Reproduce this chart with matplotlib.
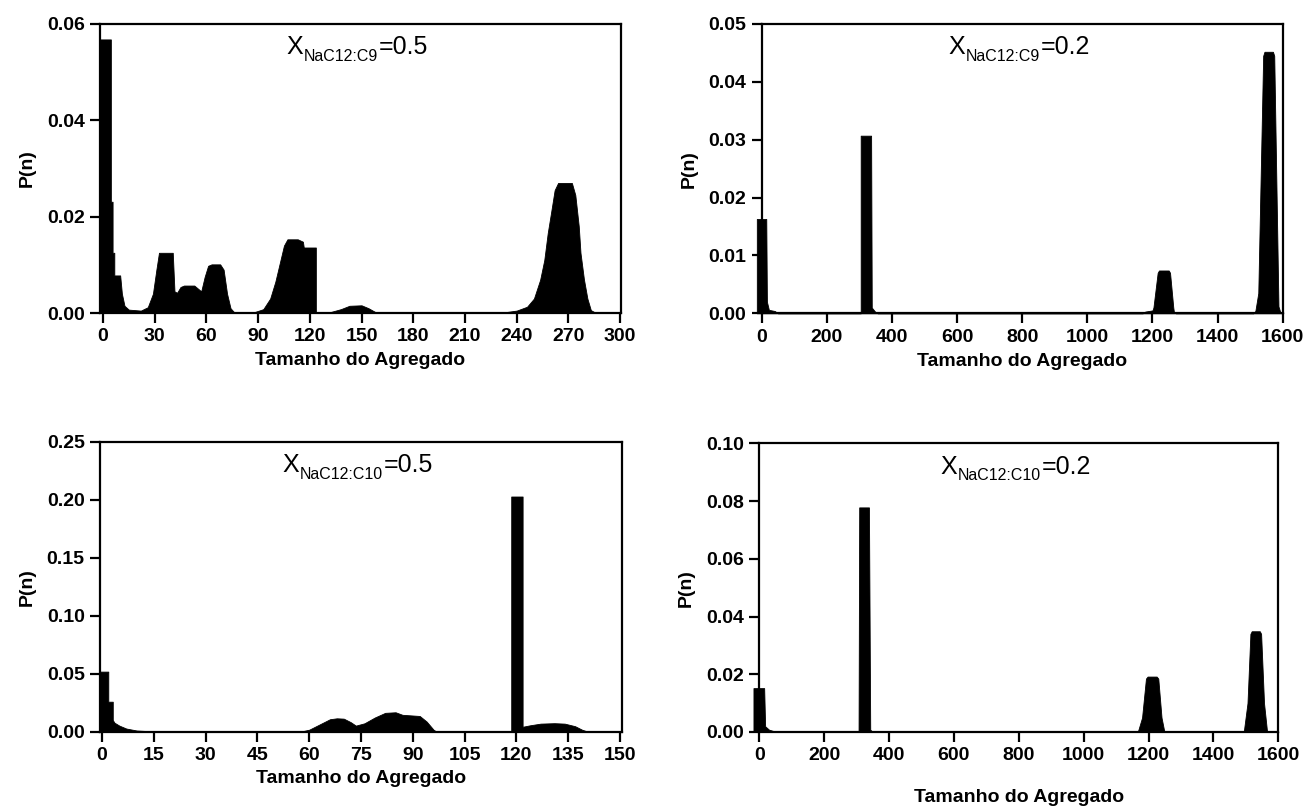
import matplotlib
matplotlib.use('Agg')
import matplotlib.pyplot as plt
from matplotlib.ticker import FormatStrFormatter

plt.rcParams['font.family'] = ['Liberation Sans', 'DejaVu Sans']

# Distribuição de tamanhos de agregado, C9 com X=0.5
n_c9_05 = [-1.7, -1.7, 4.6, 4.6, 5.6, 5.6, 6.6, 6.6, 10, 11, 12.5, 15, 22, 26, 29, 31, 32.5, 40.5,
           41.5, 43, 45, 47, 53, 56, 57, 59, 61, 63, 68, 70, 72, 74, 76, 88, 93, 97, 100, 103,
           105, 107, 113, 116, 116.5, 123.5, 123.5, 132, 138, 143, 150, 154, 158, 234, 240, 246,
           250, 253.6, 256, 258, 260, 262, 264, 272, 274, 276, 277, 279, 281, 283, 286]
p_c9_05 = [0, 0.0568, 0.0568, 0.0231, 0.0231, 0.0125, 0.0125, 0.0078, 0.0078, 0.004, 0.0015,
           0.0007, 0.0005, 0.0012, 0.004, 0.009, 0.0125, 0.0125, 0.0045, 0.0042, 0.0054, 0.0057,
           0.0057, 0.0048, 0.0045, 0.0075, 0.0098, 0.0101, 0.0101, 0.009, 0.004, 0.001, 0.0002,
           0.0002, 0.0008, 0.003, 0.0065, 0.011, 0.014, 0.0153, 0.0153, 0.0148, 0.0136, 0.0136,
           0.0001, 0.0002, 0.0008, 0.0015, 0.0016, 0.001, 0.0002, 0.0002, 0.0005, 0.0013, 0.003,
           0.0069, 0.011, 0.0166, 0.021, 0.0255, 0.027, 0.027, 0.0245, 0.018, 0.0125, 0.007,
           0.003, 0.0006, 0]

# C9 com X=0.2
n_c9_02 = [-15, -15, 14, 16, 22, 40, 50, 304, 304, 336, 338, 348, 356, 1170, 1178, 1200, 1203,
           1216, 1220, 1250, 1254, 1264, 1266, 1272, 1510, 1516, 1525, 1540, 1544, 1570, 1574,
           1587, 1592, 1596]
p_c9_02 = [0, 0.0163, 0.0163, 0.002, 0.0006, 0.0004, 0, 0, 0.0307, 0.0307, 0.001, 0.0003, 0,
           0, 0.0003, 0.0005, 0.001, 0.007, 0.0074, 0.0074, 0.007, 0.001, 0.0002, 0, 0, 0.0004,
           0.0035, 0.0445, 0.0452, 0.0452, 0.0445, 0.0012, 0.0003, 0]

# C10 com X=0.5
n_c10_05 = [-0.6, -0.6, 1.8, 1.8, 3.1, 3.1, 3.6, 5, 7, 10, 15, 20, 25, 57, 60, 63, 66, 68, 70,
            72, 73.5, 76, 79, 82, 85, 87, 92, 94, 96, 97, 118.5, 118.5, 121.8, 121.8, 124, 127,
            131, 134, 137, 139, 141]
p_c10_05 = [0, 0.052, 0.052, 0.0261, 0.0261, 0.0103, 0.008, 0.0055, 0.003, 0.0013, 0.0005,
            0.0002, 0, 0, 0.002, 0.0065, 0.011, 0.0118, 0.0115, 0.0085, 0.0055, 0.0075, 0.0125,
            0.0165, 0.017, 0.0148, 0.0138, 0.009, 0.002, 0, 0, 0.2028, 0.2028, 0.0045, 0.0058,
            0.0072, 0.0076, 0.0072, 0.005, 0.002, 0]

# C10 com X=0.2
n_c10_02 = [-18, -18, 15, 18, 30, 45, 50, 306, 308, 338, 342, 350, 1160, 1168, 1180, 1192, 1197,
            1225, 1230, 1240, 1248, 1256, 1486, 1494, 1505, 1514, 1518, 1543, 1547, 1556, 1565,
            1572]
p_c10_02 = [0, 0.0152, 0.0152, 0.002, 0.0008, 0.0003, 0, 0, 0.0778, 0.0778, 0.0008, 0, 0, 0.0005,
            0.005, 0.0185, 0.0192, 0.0192, 0.0185, 0.005, 0.0005, 0, 0, 0.0005, 0.01, 0.034,
            0.0349, 0.0349, 0.034, 0.01, 0.0005, 0]

W, H = 1307, 810
fig = plt.figure(figsize=(W / 100, H / 100), dpi=100)

paineis = [
    # caixa em pixels (esq, base, larg, alt), dados, xlim, xticks, ylim, yticks, subscrito, valor, pad
    ((100, 313, 521, 289), n_c9_05, p_c9_05, (-1.7, 300.5), range(0, 301, 30),
     (0, 0.06), [0, 0.02, 0.04, 0.06], 'NaC12:C9', '=0.5', 5),
    ((761.7, 313.3, 521, 289.3), n_c9_02, p_c9_02, (0, 1600), range(0, 1601, 200),
     (0, 0.05), [0, 0.01, 0.02, 0.03, 0.04, 0.05], 'NaC12:C9', '=0.2', 5),
    ((100, 732, 521.7, 290.3), n_c10_05, p_c10_05, (-0.6, 150.5), range(0, 151, 15),
     (0, 0.25), [0, 0.05, 0.10, 0.15, 0.20, 0.25], 'NaC12:C10', '=0.5', 4),
    ((759.3, 732, 519, 288.7), n_c10_02, p_c10_02, (0, 1600), range(0, 1601, 200),
     (0, 0.10), [0, 0.02, 0.04, 0.06, 0.08, 0.10], 'NaC12:C10', '=0.2', 18),
]

for (l, b, w, h), n, p, xlim, xt, ylim, yt, sub, valor, pad in paineis:
    ax = fig.add_axes([l / W, 1 - b / H, w / W, h / H])
    ax.fill_between(n, p, 0, color='black', linewidth=0.6, edgecolor='black', clip_on=False)
    ax.set_xlim(*xlim)
    ax.set_ylim(*ylim)
    ax.set_xticks(list(xt))
    ax.set_yticks(yt)
    ax.yaxis.set_major_formatter(FormatStrFormatter('%.2f'))
    for s in ax.spines.values():
        s.set_linewidth(1.6)
        s.set_color('black')
        s.set_zorder(3)
    ax.tick_params(direction='out', length=7, width=1.6, labelsize=14, pad=4)
    for t in ax.get_xticklabels() + ax.get_yticklabels():
        t.set_fontweight('bold')
    ax.set_xlabel('Tamanho do Agregado', fontsize=14, fontweight='bold', labelpad=pad)
    ax.set_ylabel('P(n)', fontsize=14, fontweight='bold', labelpad=8)

    # rótulo X com subscrito montado em três partes
    t_sub = ax.annotate(sub, xy=(0.5, 0.893), xycoords='axes fraction',
                        xytext=(-14, -4.5), textcoords='offset points',
                        ha='center', va='baseline', fontsize=11.5)
    ax.annotate('X', xy=(0, 0), xycoords=t_sub, xytext=(-0.5, 7),
                textcoords='offset points', ha='right', va='baseline', fontsize=18)
    ax.annotate(valor, xy=(1, 0), xycoords=t_sub, xytext=(0.3, 7),
                textcoords='offset points', ha='left', va='baseline', fontsize=18)

fig.savefig('out.png', dpi=100)
